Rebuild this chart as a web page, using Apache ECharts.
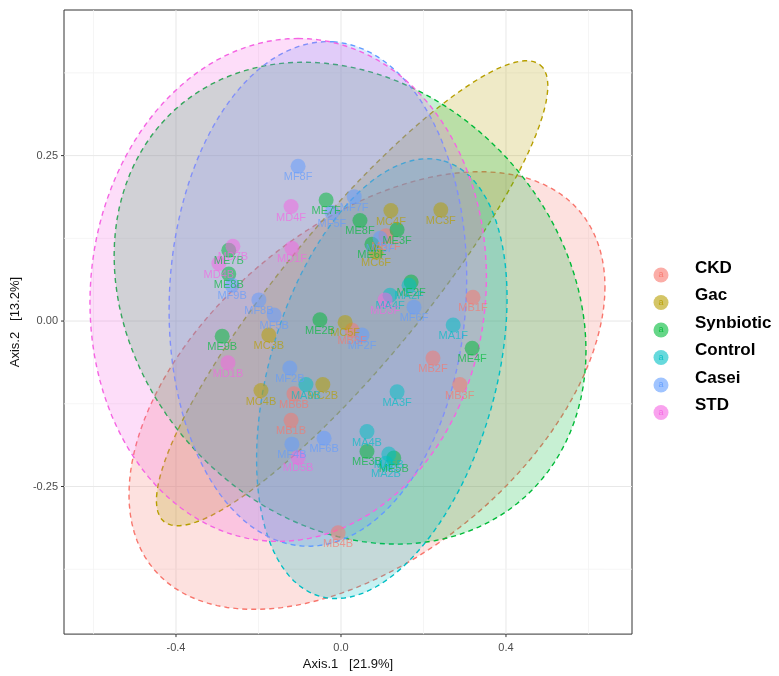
<!DOCTYPE html>
<html>
<head>
<meta charset="utf-8">
<script src="https://cdn.jsdelivr.net/npm/echarts@6/dist/echarts.min.js"></script>
<style>html,body{margin:0;padding:0;background:#fff}#c{width:779px;height:676px}</style>
</head>
<body>
<div id="c"></div>
<script>
const categories = ['CKD','Gac','Synbiotic','Control','Casei','STD'];
const colors = ['#F8766D','#B79F00','#00BA38','#00BFC4','#619CFF','#F564E3'];

// [Axis.1, Axis.2, label]
const ckdPoints = [
  [0.320,0.036,'MB1F'],[0.223,-0.056,'MB2F'],[0.288,-0.096,'MB3F'],[0.027,-0.014,'MB6F'],
  [0.109,0.129,'MB7F'],[-0.114,-0.110,'MB6B'],[-0.121,-0.150,'MB1B'],[-0.007,-0.320,'MB4B']
];
const gacPoints = [
  [0.242,0.168,'MC3F'],[0.121,0.167,'MC4F'],[0.085,0.104,'MC6F'],[0.010,-0.002,'MC5F'],
  [-0.175,-0.021,'MC3B'],[-0.194,-0.105,'MC4B'],[-0.044,-0.096,'MC2B']
];
const synbioticPoints = [
  [-0.036,0.183,'ME7F'],[0.046,0.152,'ME8F'],[0.136,0.138,'ME3F'],[0.075,0.116,'ME6F'],
  [0.170,0.059,'ME2F'],[0.318,-0.041,'ME4F'],[-0.051,0.002,'ME2B'],[-0.288,-0.023,'ME9B'],
  [-0.272,0.107,'ME7B'],[-0.272,0.071,'ME8B'],[0.063,-0.197,'ME3B'],[0.128,-0.207,'ME5B']
];
const controlPoints = [
  [0.272,-0.006,'MA1F'],[0.136,-0.107,'MA3F'],[0.119,0.039,'MA4F'],[0.165,0.054,'MA2F'],
  [-0.085,-0.096,'MA9B'],[0.063,-0.167,'MA4B'],[0.116,-0.201,'MA5B'],[0.109,-0.215,'MA2B']
];
const caseiPoints = [
  [-0.104,0.234,'MF8F'],[0.032,0.188,'MF7F'],[-0.022,0.164,'MF5F'],[0.095,0.125,'MF3F'],
  [0.177,0.021,'MF6F'],[0.051,-0.021,'MF2F'],[-0.264,0.054,'MF9B'],[-0.199,0.032,'MF8B'],
  [-0.162,0.009,'MF5B'],[-0.124,-0.071,'MF2B'],[-0.041,-0.177,'MF6B'],[-0.119,-0.186,'MF4B']
];
const stdPoints = [
  [-0.121,0.173,'MD4F'],[-0.119,0.110,'MD1F'],[0.107,0.032,'MD3F'],[-0.262,0.113,'MD7B'],
  [-0.296,0.087,'MD4B'],[-0.274,-0.063,'MD1B'],[-0.104,-0.206,'MD5B']
];
const groupPoints = [ckdPoints, gacPoints, synbioticPoints, controlPoints, caseiPoints, stdPoints];

// ellipse: centre + two conjugate half-axis vectors, in data units
const ellipseCenter = [[0.063,-0.105],[0.027,0.042],[0.022,0.027],[0.099,-0.087],[-0.056,0.041],[-0.128,0.047]];
const ellipseU = [[0.577,0.157],[0.456,0.345],[0.572,-0.0716],[0.150,0.329],[0.036,0.381],[0.024,0.380]];
const ellipseV = [[0.000,-0.291],[0.131,-0.0665],[0.000,-0.357],[0.264,-0.047],[0.359,-0.0135],[0.480,0.000]];

const xTicks = [-0.4, 0.0, 0.4];
const xMinor = [-0.6, -0.2, 0.2, 0.6];
const yTicks = [-0.25, 0.00, 0.25];
const yMinor = [-0.375, -0.125, 0.125, 0.375];
const xRange = [-0.6715, 0.7055];
const yRange = [-0.473, 0.470];

function rgba(hex, a) {
  const n = parseInt(hex.slice(1), 16);
  return 'rgba(' + ((n >> 16) & 255) + ',' + ((n >> 8) & 255) + ',' + (n & 255) + ',' + a + ')';
}

const chart = echarts.init(document.getElementById('c'), null, {renderer: 'canvas'});

const series = [];
// vertical grid lines + x ticks
series.push({
  type: 'custom', silent: true, z: 0,
  data: xMinor.map(v => [v, 0, 0]).concat(xTicks.map(v => [v, 0, 1])),
  renderItem: function (params, api) {
    const v = api.value(0), major = api.value(2);
    const p1 = api.coord([v, yRange[0]]), p2 = api.coord([v, yRange[1]]);
    const children = [{type: 'line', shape: {x1: p1[0], y1: p1[1], x2: p2[0], y2: p2[1]},
      style: {stroke: major ? '#e8e8e8' : '#f3f3f3', lineWidth: major ? 1 : 0.8}}];
    if (major) children.push({type: 'line', shape: {x1: p1[0], y1: p1[1], x2: p1[0], y2: p1[1] + 3},
      style: {stroke: '#333', lineWidth: 1}});
    return {type: 'group', children: children};
  }
});
// horizontal grid lines + y ticks
series.push({
  type: 'custom', silent: true, z: 0,
  data: yMinor.map(v => [0, v, 0]).concat(yTicks.map(v => [0, v, 1])),
  renderItem: function (params, api) {
    const v = api.value(1), major = api.value(2);
    const p1 = api.coord([xRange[0], v]), p2 = api.coord([xRange[1], v]);
    const children = [{type: 'line', shape: {x1: p1[0], y1: p1[1], x2: p2[0], y2: p2[1]},
      style: {stroke: major ? '#e8e8e8' : '#f3f3f3', lineWidth: major ? 1 : 0.8}}];
    if (major) children.push({type: 'line', shape: {x1: p1[0] - 3, y1: p1[1], x2: p1[0], y2: p1[1]},
      style: {stroke: '#333', lineWidth: 1}});
    return {type: 'group', children: children};
  }
});
// ellipses
series.push({
  type: 'custom', silent: true, z: 1,
  data: ellipseCenter.map((c, i) => [c[0], c[1], i]),
  renderItem: function (params, api) {
    const i = api.value(2);
    const c = ellipseCenter[i], u = ellipseU[i], v = ellipseV[i];
    const pts = [];
    for (let k = 0; k < 120; k++) {
      const t = k / 120 * Math.PI * 2;
      pts.push(api.coord([c[0] + u[0] * Math.cos(t) + v[0] * Math.sin(t),
                          c[1] + u[1] * Math.cos(t) + v[1] * Math.sin(t)]));
    }
    return {type: 'polygon', shape: {points: pts},
      style: {fill: rgba(colors[i], 0.22), stroke: colors[i], lineWidth: 1.4, lineDash: [5, 4]}};
  }
});
// points
categories.forEach((name, i) => {
  series.push({
    type: 'scatter', name: name, z: 3,
    data: groupPoints[i],
    symbolSize: 15,
    itemStyle: {color: rgba(colors[i], 0.65)},
    label: {show: true, position: 'bottom', distance: -2, formatter: p => p.data[2],
      color: rgba(colors[i], 0.85), fontSize: 11, fontFamily: 'Liberation Sans'},
    emphasis: {disabled: true}
  });
});

const legendGraphics = [];
categories.forEach((name, i) => {
  const ty = 268 + i * 27.5;
  legendGraphics.push({type: 'circle', shape: {cx: 661, cy: ty + 7, r: 7.5}, style: {fill: rgba(colors[i], 0.6)}});
  legendGraphics.push({type: 'text', x: 661, y: ty + 7, style: {text: 'a', fill: rgba(colors[i], 0.9),
    font: '9px "Liberation Sans"', align: 'center', verticalAlign: 'middle'}});
  legendGraphics.push({type: 'text', x: 695, y: ty, style: {text: name, fill: '#000',
    font: 'bold 17px "Liberation Sans"', align: 'left', verticalAlign: 'middle'}});
});

chart.setOption({
  animation: false,
  textStyle: {fontFamily: 'Liberation Sans'},
  grid: {left: 64, top: 10, width: 568, height: 628, show: true, borderColor: '#333', borderWidth: 1, backgroundColor: '#fff', containLabel: false},
  xAxis: {
    type: 'value', min: xRange[0], max: xRange[1],
    name: 'Axis.1   [21.9%]', nameLocation: 'middle', nameGap: 22,
    nameTextStyle: {color: '#111', fontSize: 13},
    axisLine: {show: false}, splitLine: {show: false}, axisTick: {show: false},
    axisLabel: {customValues: xTicks, formatter: v => v.toFixed(1), color: '#4d4d4d', fontSize: 11, margin: 8}
  },
  yAxis: {
    type: 'value', min: yRange[0], max: yRange[1],
    name: 'Axis.2   [13.2%]', nameLocation: 'middle', nameGap: 35,
    nameTextStyle: {color: '#111', fontSize: 13},
    axisLine: {show: false}, splitLine: {show: false}, axisTick: {show: false},
    axisLabel: {customValues: yTicks, formatter: v => v.toFixed(2), color: '#4d4d4d', fontSize: 11, margin: 6}
  },
  graphic: legendGraphics,
  series: series
});
</script>
</body>
</html>
